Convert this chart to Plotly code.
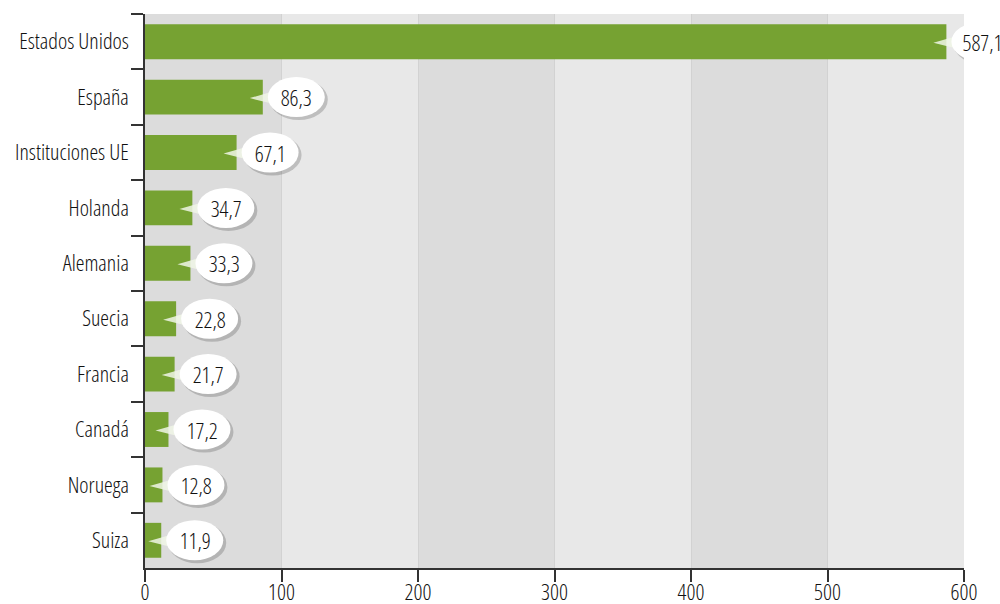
import plotly.graph_objects as go

countries = ["Estados Unidos", "España", "Instituciones UE", "Holanda", "Alemania",
             "Suecia", "Francia", "Canadá", "Noruega", "Suiza"]
values = [587.1, 86.3, 67.1, 34.7, 33.3, 22.8, 21.7, 17.2, 12.8, 11.9]
x_ticks = [0, 100, 200, 300, 400, 500, 600]

FONT = "Open Sans, Roboto Condensed, sans-serif"
BAR = "#76a232"
TXT = "#111111"
FS = 22
WT = 360

fig = go.Figure()
fig.add_trace(go.Bar(
    y=countries, x=values, orientation="h",
    marker=dict(color=BAR, line=dict(width=0)),
    width=0.63, hoverinfo="skip"))

shapes = []
# alternating background bands from tick values
for i in range(len(x_ticks) - 1):
    shapes.append(dict(type="rect", xref="x", yref="paper", x0=x_ticks[i], x1=x_ticks[i + 1],
                       y0=0, y1=1, fillcolor="#dcdcdc" if i % 2 == 0 else "#e8e8e8",
                       line=dict(width=0), layer="below"))

annotations = []
for i, (c, v) in enumerate(zip(countries, values)):
    label = f"{v:.1f}".replace(".", ",")
    w = 57 if len(label) <= 4 else 63
    h = 40
    gap = 5
    # shadow
    shapes.append(dict(type="circle", xref="x", yref="y", xsizemode="pixel", ysizemode="pixel",
                       xanchor=v, yanchor=i, x0=gap + 2, x1=gap + w + 3, y0=-h / 2 - 3, y1=h / 2 - 2,
                       fillcolor="rgba(0,0,0,0.18)", line=dict(width=0), layer="above"))
    # pointer
    shapes.append(dict(type="path", xref="x", yref="y", xsizemode="pixel", ysizemode="pixel",
                       xanchor=v, yanchor=i,
                       path=f"M -13,-1 L {gap + 10},7 L {gap + 10},-8 Z",
                       fillcolor="rgba(240,246,230,0.85)", line=dict(width=0), layer="above"))
    # bubble
    shapes.append(dict(type="circle", xref="x", yref="y", xsizemode="pixel", ysizemode="pixel",
                       xanchor=v, yanchor=i, x0=gap, x1=gap + w, y0=-h / 2, y1=h / 2,
                       fillcolor="#ffffff", line=dict(width=0), layer="above"))
    annotations.append(dict(x=v, y=i, xref="x", yref="y", text=label, showarrow=False,
                            xshift=gap + w / 2, yshift=0, xanchor="center", yanchor="middle",
                            font=dict(family=FONT, size=FS, color=TXT, weight=WT)))

fig.update_layout(
    width=1000, height=604,
    margin=dict(l=145, r=36, t=14, b=36),
    paper_bgcolor="#ffffff", plot_bgcolor="#e8e8e8",
    showlegend=False, bargap=0.37,
    shapes=shapes, annotations=annotations,
    xaxis=dict(range=[0, 600], tickvals=x_ticks, ticktext=[str(t) for t in x_ticks],
               showgrid=True, gridcolor="#d2d2d2", gridwidth=1, zeroline=False,
               showline=True, linecolor="#333333", linewidth=1.5,
               ticks="outside", ticklen=12, tickwidth=1.5, tickcolor="#333333",
               ticklabelstandoff=-8,
               tickfont=dict(family=FONT, size=FS, color=TXT, weight=WT), automargin=False,
               layer="below traces"),
    yaxis=dict(type="category", categoryorder="array", categoryarray=countries,
               range=[9.5, -0.5], showgrid=False, zeroline=False,
               showline=True, linecolor="#333333", linewidth=1.5,
               ticks="outside", ticklen=12, tickwidth=1.5, tickcolor="#333333",
               tickson="boundaries", ticklabelstandoff=10,
               tickfont=dict(family=FONT, size=FS, color=TXT, weight=WT), automargin=False),
)

post = ("document.body.style.margin='0';"
        "var s=document.createElement('style');"
        "s.textContent='svg text{font-stretch:condensed !important}';"
        "document.head.appendChild(s);")
fig.write_html("out.html", post_script=post, config={"displayModeBar": False})
